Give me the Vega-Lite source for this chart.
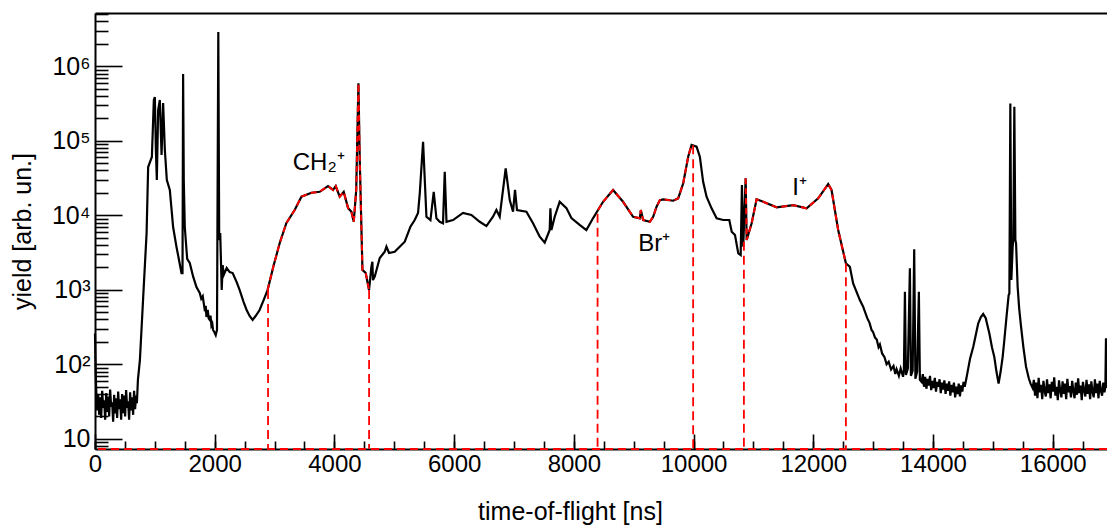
{
  "$schema": "https://vega.github.io/schema/vega-lite/v6.json",
  "width": 1012,
  "height": 436,
  "autosize": "none",
  "padding": {"left": 95, "top": 13, "right": 0, "bottom": 78},
  "background": "white",
  "config": {
    "view": {"stroke": null},
    "font": "Liberation Sans",
    "axis": {
      "domainColor": "black", "tickColor": "black", "labelColor": "black", "titleColor": "black",
      "labelFont": "Liberation Sans", "titleFont": "Liberation Sans",
      "labelFontSize": 24, "titleFontSize": 25, "titleFontWeight": "normal",
      "grid": false, "domainWidth": 2, "tickWidth": 1.6
    }
  },
  "datasets": {
    "tof": [
      {"t":0,"y":260},{"t":10,"y":90},{"t":20,"y":45},{"t":37,"y":24},{"t":53,"y":40},{"t":70,"y":21},{"t":87,"y":36},{"t":103,"y":19},{"t":120,"y":44},{"t":137,"y":26},{"t":153,"y":33},{"t":170,"y":18},{"t":187,"y":41},{"t":203,"y":23},{"t":220,"y":37},{"t":237,"y":20},{"t":253,"y":46},{"t":270,"y":27},{"t":287,"y":31},{"t":303,"y":17},{"t":320,"y":39},{"t":337,"y":22},{"t":353,"y":35},{"t":370,"y":19},{"t":387,"y":43},{"t":403,"y":25},{"t":420,"y":34},{"t":437,"y":18},{"t":453,"y":40},{"t":470,"y":22},{"t":487,"y":38},{"t":503,"y":20},{"t":520,"y":45},{"t":537,"y":26},{"t":553,"y":32},{"t":570,"y":18},{"t":587,"y":42},{"t":603,"y":24},{"t":620,"y":36},{"t":637,"y":21},{"t":653,"y":44},{"t":670,"y":25},{"t":687,"y":38},{"t":700,"y":30},
      {"t":717,"y":62},{"t":750,"y":114},{"t":805,"y":793},{"t":862,"y":5790},{"t":888,"y":44500},{"t":950,"y":60700},{"t":983,"y":353000},{"t":1000,"y":387000},{"t":1017,"y":75300},{"t":1033,"y":29800},{"t":1055,"y":259000},{"t":1083,"y":353000},{"t":1112,"y":64400},{"t":1138,"y":321000},{"t":1167,"y":75300},{"t":1200,"y":29800},{"t":1250,"y":21900},{"t":1305,"y":6970},{"t":1362,"y":3750},{"t":1445,"y":1680},{"t":1462,"y":1680},{"t":1472,"y":789000},{"t":1483,"y":29800},{"t":1500,"y":6970},{"t":1540,"y":2600},{"t":1583,"y":2290},{"t":1640,"y":1500},{"t":1695,"y":1090},{"t":1750,"y":906},{"t":1775,"y":760},{"t":1800,"y":820},{"t":1830,"y":560},{"t":1850,"y":610},{"t":1862,"y":432},{"t":1883,"y":536},{"t":1900,"y":410},{"t":1917,"y":394},{"t":1930,"y":450},{"t":1945,"y":330},{"t":1960,"y":350},{"t":1972,"y":289},{"t":1995,"y":270},{"t":2017,"y":247},{"t":2038,"y":289},{"t":2060,"y":2880000},{"t":2075,"y":4660},{"t":2092,"y":5790},{"t":2117,"y":993},{"t":2133,"y":2150},{"t":2150,"y":1580},{"t":2200,"y":1960},{"t":2250,"y":1730},{"t":2300,"y":1680},{"t":2367,"y":1270},{"t":2417,"y":993},{"t":2483,"y":685},{"t":2533,"y":536},{"t":2583,"y":445},{"t":2633,"y":394},{"t":2683,"y":445},{"t":2750,"y":536},{"t":2817,"y":729},{"t":2883,"y":993},
      {"t":2983,"y":2100},{"t":3086,"y":4250},{"t":3198,"y":7890},{"t":3336,"y":11780},{"t":3449,"y":17800},{"t":3616,"y":20100},{"t":3754,"y":20700},{"t":3893,"y":24700},{"t":3977,"y":21900},{"t":4022,"y":24700},{"t":4088,"y":17800},{"t":4155,"y":20700},{"t":4228,"y":12500},{"t":4284,"y":11200},{"t":4323,"y":8200},{"t":4364,"y":21900},{"t":4401,"y":592000},{"t":4423,"y":55200},{"t":4468,"y":1850},{"t":4523,"y":1680},{"t":4578,"y":993},{"t":4618,"y":2040},{"t":4634,"y":2380},{"t":4644,"y":1350},{"t":4673,"y":1500},{"t":4757,"y":2670},{"t":4840,"y":3240},{"t":4869,"y":3790},{"t":4912,"y":3120},{"t":5007,"y":3240},{"t":5175,"y":4430},{"t":5270,"y":7030},{"t":5341,"y":8650},{"t":5397,"y":10740},{"t":5426,"y":19900},{"t":5481,"y":97300},{"t":5537,"y":9570},{"t":5604,"y":8650},{"t":5659,"y":20700},{"t":5704,"y":9120},{"t":5759,"y":8200},{"t":5814,"y":7810},{"t":5843,"y":38500},{"t":5872,"y":8200},{"t":5982,"y":8650},{"t":6148,"y":10800},{"t":6288,"y":10100},{"t":6428,"y":8200},{"t":6539,"y":7180},{"t":6649,"y":9570},{"t":6706,"y":11780},{"t":6761,"y":9570},{"t":6861,"y":42800},{"t":6929,"y":16000},{"t":6984,"y":11200},{"t":7017,"y":21900},{"t":7050,"y":11780},{"t":7207,"y":11200},{"t":7318,"y":7810},{"t":7430,"y":5160},{"t":7513,"y":4290},{"t":7596,"y":6350},{"t":7608,"y":12400},{"t":7625,"y":6350},{"t":7680,"y":9570},{"t":7763,"y":15200},{"t":7876,"y":12500},{"t":7959,"y":9200},{"t":8097,"y":7450},{"t":8209,"y":6350},{"t":8320,"y":9120},{"t":8404,"y":11780},{"t":8488,"y":15200},{"t":8655,"y":21900},{"t":8822,"y":15200},{"t":8990,"y":9570},{"t":9102,"y":9120},{"t":9119,"y":11780},{"t":9157,"y":8650},{"t":9270,"y":8200},{"t":9325,"y":9570},{"t":9382,"y":13030},{"t":9437,"y":16000},{"t":9492,"y":16400},{"t":9659,"y":15700},{"t":9743,"y":16900},{"t":9827,"y":26900},{"t":9910,"y":61200},{"t":9967,"y":87900},{"t":10050,"y":83400},{"t":10105,"y":61200},{"t":10160,"y":28200},{"t":10217,"y":17800},{"t":10301,"y":12400},{"t":10385,"y":9120},{"t":10496,"y":8650},{"t":10597,"y":8650},{"t":10637,"y":6030},{"t":10692,"y":5440},{"t":10747,"y":3090},{"t":10787,"y":2930},{"t":10808,"y":25500},{"t":10830,"y":3790},{"t":10870,"y":31400},{"t":10887,"y":4660},{"t":10970,"y":7810},{"t":11053,"y":16400},{"t":11163,"y":15200},{"t":11388,"y":12800},{"t":11665,"y":13700},{"t":11889,"y":12400},{"t":12082,"y":16900},{"t":12249,"y":26300},{"t":12305,"y":21900},{"t":12416,"y":6350},{"t":12500,"y":3240},{"t":12545,"y":2270},{"t":12611,"y":2040},{"t":12666,"y":1220},{"t":12778,"y":729},{"t":12833,"y":593},{"t":12900,"y":420},{"t":12940,"y":360},{"t":12974,"y":289},
      {"t":13000,"y":270},{"t":13030,"y":230},{"t":13060,"y":215},{"t":13090,"y":170},{"t":13113,"y":185},{"t":13150,"y":140},{"t":13190,"y":125},{"t":13225,"y":100},{"t":13260,"y":108},{"t":13300,"y":85},{"t":13340,"y":95},{"t":13370,"y":74},{"t":13392,"y":86},{"t":13430,"y":70},{"t":13460,"y":88},{"t":13500,"y":68},{"t":13514,"y":84},{"t":13531,"y":942},{"t":13548,"y":72},{"t":13580,"y":88},{"t":13614,"y":1950},{"t":13631,"y":70},{"t":13660,"y":82},{"t":13686,"y":3500},{"t":13706,"y":64},{"t":13735,"y":80},{"t":13764,"y":942},{"t":13781,"y":62},
      {"t":13810,"y":58},{"t":13830,"y":74},{"t":13850,"y":50},{"t":13870,"y":68},{"t":13890,"y":47},{"t":13910,"y":64},{"t":13930,"y":52},{"t":13950,"y":70},{"t":13970,"y":45},{"t":13990,"y":60},{"t":14010,"y":48},{"t":14030,"y":66},{"t":14050,"y":43},{"t":14070,"y":58},{"t":14090,"y":50},{"t":14110,"y":63},{"t":14130,"y":41},{"t":14150,"y":57},{"t":14170,"y":46},{"t":14190,"y":61},{"t":14210,"y":40},{"t":14230,"y":55},{"t":14250,"y":44},{"t":14270,"y":59},{"t":14290,"y":38},{"t":14310,"y":53},{"t":14330,"y":42},{"t":14350,"y":57},{"t":14370,"y":36},{"t":14390,"y":50},{"t":14410,"y":40},{"t":14430,"y":55},{"t":14450,"y":37},{"t":14470,"y":52},{"t":14490,"y":43},{"t":14510,"y":58},{"t":14530,"y":50},
      {"t":14563,"y":68},{"t":14620,"y":120},{"t":14673,"y":172},{"t":14720,"y":260},{"t":14756,"y":355},{"t":14800,"y":430},{"t":14839,"y":473},{"t":14880,"y":420},{"t":14941,"y":261},{"t":14985,"y":170},{"t":15024,"y":126},{"t":15060,"y":80},{"t":15096,"y":55},{"t":15130,"y":80},{"t":15164,"y":126},{"t":15192,"y":212},{"t":15230,"y":450},{"t":15264,"y":851},{"t":15276,"y":890},{"t":15292,"y":318000},{"t":15309,"y":1355},{"t":15331,"y":3790},{"t":15342,"y":4660},{"t":15359,"y":287000},{"t":15376,"y":4660},{"t":15388,"y":4210},{"t":15414,"y":1100},{"t":15440,"y":560},{"t":15471,"y":320},{"t":15510,"y":170},{"t":15554,"y":93},{"t":15600,"y":65},{"t":15630,"y":55},{"t":15665,"y":48},
      {"t":15685,"y":62},{"t":15705,"y":38},{"t":15725,"y":57},{"t":15745,"y":35},{"t":15765,"y":66},{"t":15785,"y":42},{"t":15805,"y":53},{"t":15825,"y":34},{"t":15845,"y":60},{"t":15865,"y":44},{"t":15885,"y":37},{"t":15905,"y":63},{"t":15925,"y":41},{"t":15945,"y":54},{"t":15965,"y":35},{"t":15985,"y":58},{"t":16005,"y":43},{"t":16025,"y":67},{"t":16045,"y":38},{"t":16065,"y":50},{"t":16085,"y":33},{"t":16105,"y":61},{"t":16125,"y":45},{"t":16145,"y":36},{"t":16165,"y":59},{"t":16185,"y":40},{"t":16205,"y":55},{"t":16225,"y":34},{"t":16245,"y":64},{"t":16265,"y":42},{"t":16285,"y":51},{"t":16305,"y":36},{"t":16325,"y":60},{"t":16345,"y":44},{"t":16365,"y":35},{"t":16385,"y":57},{"t":16405,"y":39},{"t":16425,"y":65},{"t":16445,"y":41},{"t":16465,"y":52},{"t":16485,"y":33},{"t":16505,"y":58},{"t":16525,"y":45},{"t":16545,"y":37},{"t":16565,"y":62},{"t":16585,"y":40},{"t":16605,"y":54},{"t":16625,"y":34},{"t":16645,"y":59},{"t":16665,"y":43},{"t":16685,"y":36},{"t":16705,"y":63},{"t":16725,"y":41},{"t":16745,"y":55},{"t":16765,"y":35},{"t":16785,"y":60},{"t":16805,"y":44},{"t":16825,"y":38},{"t":16845,"y":57},{"t":16865,"y":42},{"t":16880,"y":50},{"t":16890,"y":223},{"t":16905,"y":48}
    ],
    "cuts": [
      {"t":2891,"top":993},{"t":4579,"top":993},{"t":8396,"top":10500},{"t":9993,"top":87000},{"t":10841,"top":4430},{"t":12545,"top":2270}
    ],
    "notes": [
      {"t":3304,"y":40400,"label":"CH₂⁺"},{"t":9074,"y":3320,"label":"Br⁺"},{"t":11648,"y":18700,"label":"I⁺"}
    ]
  },
  "layer": [
    {
      "data": {"name": "tof"},
      "mark": {"type": "line", "color": "black", "strokeWidth": 2.2},
      "encoding": {
        "x": {"field": "t", "type": "quantitative", "scale": {"domain": [0, 16907], "nice": false, "zero": false},
          "axis": {"orient": "bottom", "values": [0,2000,4000,6000,8000,10000,12000,14000,16000], "format": "d", "ticks": false, "domain": true, "labelPadding": 3, "labelFlush": false, "labelOverlap": false, "labelBaseline": "top",
            "title": "time-of-flight [ns]", "titleX": 475, "titleY": 70, "titleAlign": "center", "titleBaseline": "alphabetic", "titleAnchor": null}},
        "y": {"field": "y", "type": "quantitative", "scale": {"type": "log", "domain": [7.3, 5200000], "nice": false},
          "axis": {"orient": "left", "values": [10,100,1000,10000,100000,1000000], "ticks": false, "domain": true, "labelPadding": 5, "labelFontSize": 25, "labelFlush": false, "labelOverlap": false,
            "labelExpr": "datum.value < 50 ? '10' : datum.value < 500 ? '10²' : datum.value < 5000 ? '10³' : datum.value < 50000 ? '10⁴' : datum.value < 500000 ? '10⁵' : '10⁶'",
            "title": "yield [arb. un.]", "titleX": -65, "titleY": 218, "titleAngle": -90, "titleAlign": "center", "titleBaseline": "alphabetic"}}
      }
    },
    {
      "data": {"name": "tof"},
      "transform": [{"filter": "datum.t >= 2880 && datum.t <= 4580"}],
      "mark": {"type": "line", "color": "#ff0000", "strokeWidth": 2, "strokeDash": [6, 4]},
      "encoding": {
        "x": {"field": "t", "type": "quantitative", "axis": {"orient": "bottom", "values": [0,2000,4000,6000,8000,10000,12000,14000,16000], "labels": false, "domain": false, "tickSize": -15, "title": null}},
        "y": {"field": "y", "type": "quantitative", "axis": {"orient": "left", "values": [10,100,1000,10000,100000,1000000], "labels": false, "domain": false, "tickSize": -27, "title": null}}
      }
    },
    {
      "data": {"name": "tof"},
      "transform": [{"filter": "datum.t >= 8390 && datum.t <= 9995"}],
      "mark": {"type": "line", "color": "#ff0000", "strokeWidth": 2, "strokeDash": [6, 4]},
      "encoding": {
        "x": {"field": "t", "type": "quantitative", "axis": {"orient": "bottom", "values": [0,500,1000,1500,2000,2500,3000,3500,4000,4500,5000,5500,6000,6500,7000,7500,8000,8500,9000,9500,10000,10500,11000,11500,12000,12500,13000,13500,14000,14500,15000,15500,16000,16500], "labels": false, "domain": false, "tickSize": -8, "title": null}},
        "y": {"field": "y", "type": "quantitative", "axis": {"orient": "left", "values": [8,9,20,30,40,50,60,70,80,90,200,300,400,500,600,700,800,900,2000,3000,4000,5000,6000,7000,8000,9000,20000,30000,40000,50000,60000,70000,80000,90000,200000,300000,400000,500000,600000,700000,800000,900000,2000000,3000000,4000000,5000000], "labels": false, "domain": false, "tickSize": -13, "title": null}}
      }
    },
    {
      "data": {"name": "tof"},
      "transform": [{"filter": "datum.t >= 10835 && datum.t <= 12560"}],
      "mark": {"type": "line", "color": "#ff0000", "strokeWidth": 2, "strokeDash": [6, 4]},
      "encoding": {
        "x": {"field": "t", "type": "quantitative", "axis": {"orient": "top", "labels": false, "ticks": false, "domain": true, "title": null}},
        "y": {"field": "y", "type": "quantitative", "axis": null}
      }
    },
    {
      "data": {"name": "cuts"},
      "mark": {"type": "rule", "color": "#ff0000", "strokeWidth": 1.8, "strokeDash": [9, 5]},
      "encoding": {
        "x": {"field": "t", "type": "quantitative", "axis": null},
        "y": {"field": "top", "type": "quantitative", "axis": null},
        "y2": {"datum": 7.3}
      }
    },
    {
      "data": {"values": [{}]},
      "mark": {"type": "rule", "color": "#ff0000", "strokeWidth": 2, "strokeDash": [8, 5]},
      "encoding": {
        "y": {"datum": 7.3, "type": "quantitative", "axis": null}
      }
    },
    {
      "data": {"name": "notes"},
      "mark": {"type": "text", "align": "left", "baseline": "alphabetic", "fontSize": 24, "font": "Liberation Sans", "color": "black"},
      "encoding": {
        "x": {"field": "t", "type": "quantitative", "axis": null},
        "y": {"field": "y", "type": "quantitative", "axis": null},
        "text": {"field": "label"}
      }
    }
  ],
  "resolve": {"axis": {"x": "independent", "y": "independent"}}
}
